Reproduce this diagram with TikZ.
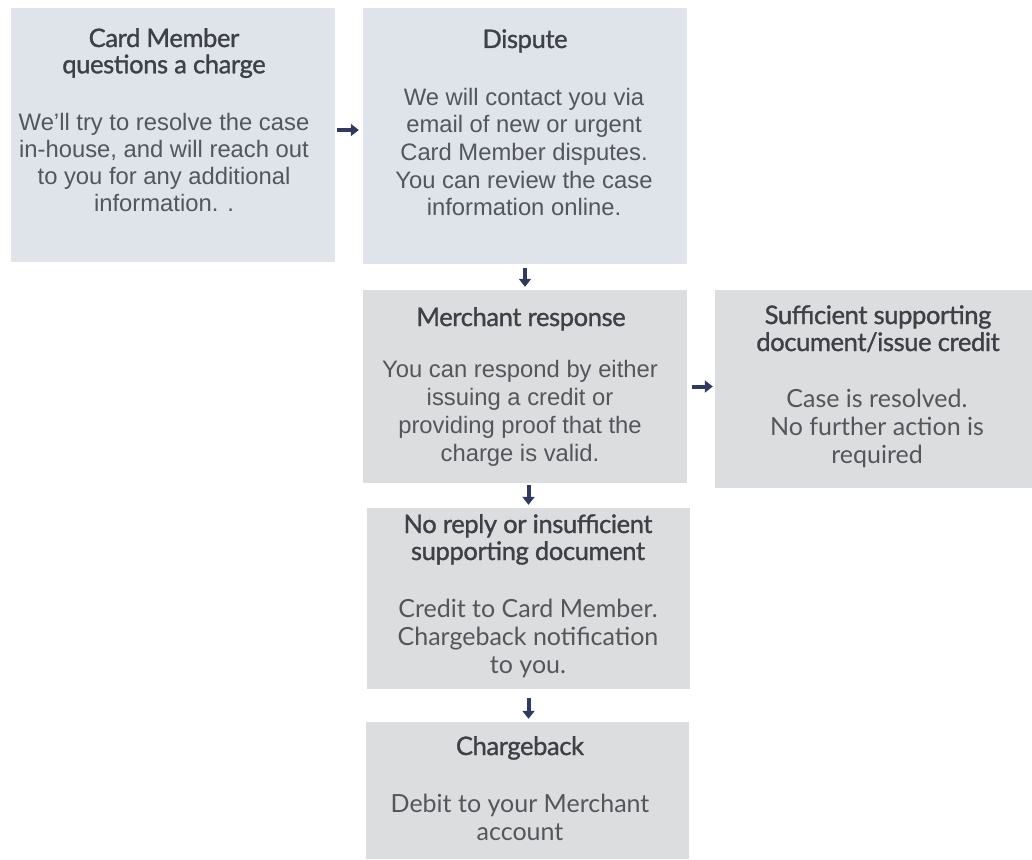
\documentclass[tikz,border=0pt]{standalone}
\usepackage{fontspec}
\usetikzlibrary{arrows.meta,calc}
\setmainfont{Liberation Sans}
\newfontfamily\latofont{Lato}
\newfontfamily\headfont{Lato}[FakeBold=1.2,LetterSpace=-1.5]
\definecolor{boxblue}{HTML}{DFE3EA}
\definecolor{boxgray}{HTML}{DCDDDF}
\definecolor{headc}{HTML}{3D4046}
\definecolor{bodyc}{HTML}{53565B}
\definecolor{arrowc}{HTML}{2E3A5F}
\newcommand{\mylines}[1]{\begin{tabular}[t]{@{}c@{}}#1\end{tabular}}
\tikzset{
  boxA/.style={rectangle, inner sep=0pt, fill=boxblue},
  boxB/.style={rectangle, inner sep=0pt, fill=boxgray},
  headtxt/.style={inner sep=0pt, anchor=base, text=headc},
  bodytxt/.style={inner sep=0pt, anchor=base, text=bodyc},
  flow/.style={draw=arrowc, line width=4pt, -{Triangle[length=8pt,width=12pt]}}
}
\begin{document}
\begin{tikzpicture}[x=1pt,y=-1pt]
\useasboundingbox (0,0) rectangle (1032,859);
% boxes
\node[boxA, minimum width=324pt, minimum height=254pt] (b1) at (173,135) {};
\node[boxA, minimum width=324pt, minimum height=256pt] (b2) at (525,136) {};
\node[boxB, minimum width=324pt, minimum height=193pt] (b3) at (525,386.5) {};
\node[boxB, minimum width=317pt, minimum height=198pt] (b6) at (873.5,389) {};
\node[boxB, minimum width=323pt, minimum height=181pt] (b4) at (528.5,598.5) {};
\node[boxB, minimum width=323pt, minimum height=137pt] (b5) at (527.5,790.5) {};
% texts
\node[headtxt] (h1) at (164,47) {\headfont\fontsize{25.5}{25}\selectfont\mylines{Card Member\\questions a charge}};
\node[bodytxt] (t1) at (164,130) {\fontsize{23.8}{27}\selectfont\mylines{We{\char"0027}ll try to resolve the case\\in-house, and will reach out\\to you for any additional\\information. .}};
\node[headtxt] (h2) at (525,48) {\headfont\fontsize{25.5}{25}\selectfont\mylines{Dispute}};
\node[bodytxt] (t2) at (524,105) {\fontsize{23.8}{27.7}\selectfont\mylines{We will contact you via\\email of new or urgent\\Card Member disputes.\\You can review the case\\information online.}};
\node[headtxt] (h3) at (521,326) {\headfont\fontsize{25.5}{25}\selectfont\mylines{Merchant response}};
\node[bodytxt] (t3) at (520,377) {\fontsize{23.8}{28.3}\selectfont\mylines{You can respond by either\\issuing a credit or\\providing proof that the\\charge is valid.}};
\node[headtxt] (h6) at (878,324) {\headfont\fontsize{25.5}{27}\selectfont\mylines{Sufficient supporting\\document/issue credit}};
\node[bodytxt] (t6) at (877,407) {\latofont\fontsize{25}{28}\selectfont\mylines{Case is resolved.\\No further action is\\required}};
\node[headtxt] (h4) at (528,533) {\headfont\fontsize{25.5}{27}\selectfont\mylines{No reply or insufficient\\supporting document}};
\node[bodytxt] (t4) at (528,617) {\latofont\fontsize{25}{28}\selectfont\mylines{Credit to Card Member.\\Chargeback notification\\to you.}};
\node[headtxt] (h5) at (520,755) {\headfont\fontsize{25.5}{27}\selectfont\mylines{Chargeback}};
\node[bodytxt] (t5) at (520,812) {\latofont\fontsize{25}{28}\selectfont\mylines{Debit to your Merchant\\account}};
% connectors
\draw[flow, shorten <=2pt, shorten >=4pt] ([yshift=5pt]b1.east) -- ([yshift=5pt]b1.east -| b2.west);
\draw[flow, shorten <=4pt, shorten >=3pt] (b2.south) -- (b3.north);
\draw[flow, shorten <=5pt, shorten >=2pt] (b3.east) -- (b3.east -| b6.west);
\draw[flow, shorten <=2pt, shorten >=3pt] (b3.south -| b4.north) -- (b4.north);
\draw[flow, shorten <=9pt, shorten >=3pt] (b4.south) -- (b5.north -| b4.south);
\end{tikzpicture}
\end{document}
